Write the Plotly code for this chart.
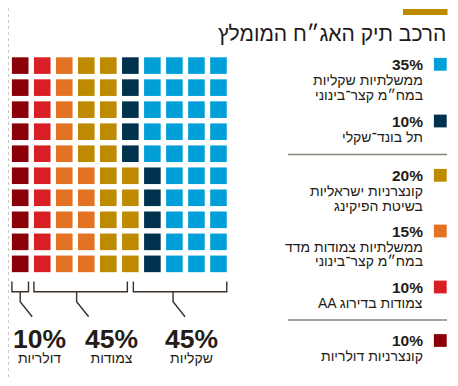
import plotly.graph_objects as go

# ---------------- data ----------------
title = "הרכב תיק האג״ח המומלץ"
cat_lines = [
    ["ממשלתיות שקליות", "במח״מ קצר־בינוני"],
    ["תל בונד־שקלי"],
    ["קונצרניות ישראליות", "בשיטת הפיקינג"],
    ["ממשלתיות צמודות מדד", "במח״מ קצר־בינוני"],
    ["AA צמודות בדירוג"],
    ["קונצרניות דולריות"],
]
shares = [35, 10, 20, 15, 10, 10]
colors = ["#009fd8", "#00324e", "#bd8a00", "#e37222", "#d81f26", "#8b0008"]
group_names = ["שקליות", "צמודות", "דולריות"]
group_shares = [45, 45, 10]

# ---------------- layout constants ----------------
W, H = 458, 386
OFF = 8  # page body margin of the written html
X0, Y0, PITCH, SQ = 20.2, 65.6, 22.03, 16.6
TXT = "#241c16"
FONT = "Liberation Sans, Arial, sans-serif"

fig = go.Figure()

# waffle: fill column-major from right column, top to bottom
k = 0
for s, c in zip(shares, colors):
    xs, ys = [], []
    for _ in range(s):
        col = 9 - k // 10
        row = k % 10
        xs.append(X0 + col * PITCH)
        ys.append(Y0 + row * PITCH)
        k += 1
    fig.add_trace(go.Scatter(x=xs, y=ys, mode="markers", hoverinfo="skip",
                             marker=dict(symbol="square", size=SQ, color=c,
                                         line=dict(width=0)),
                             showlegend=False))

# legend
leg_y = [64.3, 121, 175.3, 231, 287, 340.5]
fig.add_trace(go.Scatter(x=[440.3] * len(shares), y=leg_y, mode="markers",
                         hoverinfo="skip",
                         marker=dict(symbol="square", size=12.8, color=colors,
                                     line=dict(width=0)),
                         showlegend=False))
ann = []
for s, lines, y in zip(shares, cat_lines, leg_y):
    ann.append(dict(x=424.5, y=y, text=f"<b>{s}%</b>", showarrow=False,
                    xanchor="right", yanchor="middle",
                    font=dict(size=15.5, color=TXT, family=FONT)))
    for j, ln in enumerate(lines):
        ann.append(dict(x=424.5, y=y + 15.5 + 14.8 * j, text=ln, showarrow=False,
                        xanchor="right", yanchor="middle",
                        font=dict(size=14, color=TXT, family=FONT)))

# title
ann.append(dict(x=447.5, y=33, text=title, showarrow=False, xanchor="right",
                yanchor="middle", font=dict(size=21, color="#1e1a17", family=FONT)))

shapes = [
    dict(type="rect", x0=403, x1=447.5, y0=9, y1=15, fillcolor="#bd8a00",
         line=dict(width=0), xref="x", yref="y"),
    dict(type="line", x0=288, x1=447, y0=154.5, y1=154.5,
         line=dict(color="#8c8478", width=1.6), xref="x", yref="y"),
    dict(type="line", x0=288, x1=447, y0=320, y1=320,
         line=dict(color="#8c8478", width=1.6), xref="x", yref="y"),
    dict(type="line", x0=8.5, x1=8.5, y0=8, y1=386,
         line=dict(color="#c8c8c8", width=1, dash="dot"), xref="x", yref="y"),
]

# brackets + group labels
label_x = [191, 111, 39]
stem_off = [-7, -4, 0]
a = 0
for g, (nm, s) in enumerate(zip(group_names, group_shares)):
    b = a + s
    rcol = 9 - a // 10
    lcol = 9 - (b - 1) // 10
    xr = X0 + rcol * PITCH + (SQ / 2 if a % 10 == 0 else -3)
    xl = X0 + lcol * PITCH + (-SQ / 2 if b % 10 == 0 else 3)
    xm = (xl + xr) / 2 + stem_off[g]
    path = (f"M{xl},281.5 L{xl},291.7 L{xr},291.7 L{xr},281.5 "
            f"M{xm},291.7 L{xm},301.7 L{xm + 12},316.7")
    shapes.append(dict(type="path", path=path, xref="x", yref="y",
                       line=dict(color="#3a3028", width=1.4)))
    # percent + name as one two-line text with tight leading
    txt = (f"<span style='font-size:26.5px'><b>{s}%</b></span><br>"
           f"<span style='font-size:14px'>{nm}</span>")
    ann.append(dict(x=label_x[g], y=345, text=txt, showarrow=False,
                    xanchor="center", yanchor="middle", align="center",
                    font=dict(size=11.5, color=TXT, family=FONT)))
    a = b

# the html page has an 8px body margin: shrink the figure and shift the
# axis ranges so the drawing lands on the same page pixels
fig.update_layout(
    width=W - 2 * OFF, height=H - 2 * OFF, margin=dict(l=0, r=0, t=0, b=0),
    paper_bgcolor="white", plot_bgcolor="white",
    xaxis=dict(range=[OFF, W - OFF], visible=False, fixedrange=True),
    yaxis=dict(range=[H - OFF, OFF], visible=False, fixedrange=True),
    annotations=ann, shapes=shapes, showlegend=False,
)
fig.write_html("out.html")
